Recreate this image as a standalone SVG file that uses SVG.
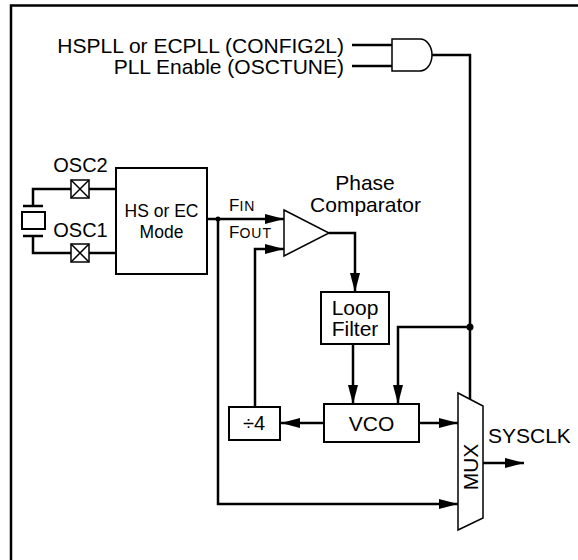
<svg xmlns="http://www.w3.org/2000/svg" width="578" height="560" viewBox="0 0 578 560">
<defs>
<style>
text{font-family:"Liberation Sans",Arial,sans-serif;fill:#000}
.lbl{font-size:21px}
.osc{font-size:20px}
.box{fill:#fff;stroke:#000;stroke-width:2}
.thin{fill:#fff;stroke:#000;stroke-width:1.5}
.wire{fill:none;stroke:#000;stroke-width:2.5}
.arr{fill:none;stroke:#000;stroke-width:2.5;marker-end:url(#ah)}
.mid{text-anchor:middle}
</style>
<marker id="ah" markerUnits="userSpaceOnUse" markerWidth="20" markerHeight="12" refX="19" refY="5" orient="auto">
<path d="M0,0 L19,5 L0,10 Z" fill="#000"/>
</marker>
</defs>
<rect id="frame" x="11" y="5.5" width="580" height="600" fill="none" stroke="#000" stroke-width="2.5"/>

<g id="connectors">
<path class="wire" d="M352,45 H392"/>
<path class="wire" d="M352,66 H392"/>
<path class="wire" d="M432,55 H470 V399"/>
<path class="arr" d="M470,327 H398 V404"/>
<circle cx="470" cy="327" r="3.5" fill="#000"/>
<path class="arr" d="M207,219 H284"/>
<circle cx="218" cy="219" r="2.5" fill="#000"/>
<path class="arr" d="M218,219 V504 H458"/>
<path class="arr" d="M255,407 V249 H284"/>
<path class="arr" d="M329,233 H355 V292"/>
<path class="arr" d="M353,344 V404"/>
<path class="arr" d="M419,423 H458"/>
<path class="arr" d="M324,423 H281"/>
<path class="arr" d="M483,463 H524"/>
<path class="wire" d="M116,189 H89 M71,189 H33 V206"/>
<path class="wire" d="M116,253 H89 M71,253 H33 V236"/>
</g>

<g id="labels-top">
<text class="lbl" x="344" y="52.5" text-anchor="end">HSPLL or ECPLL (CONFIG2L)</text>
<text class="lbl" x="344" y="73.5" text-anchor="end">PLL Enable (OSCTUNE)</text>
</g>

<g id="and-gate">
<path class="thin" d="M392,39 H420 A12,16 0 0 1 420,71 H392 Z"/>
</g>

<g id="crystal">
<path class="wire" d="M23,206 H43 M23,236 H43"/>
<rect x="22" y="212" width="23" height="17" fill="#fff" stroke="#000" stroke-width="2"/>
</g>

<g id="osc2">
<rect class="thin" x="71" y="180" width="18" height="18"/>
<path d="M71,180 L89,198 M89,180 L71,198" stroke="#000" stroke-width="1.5"/>
<text class="osc mid" x="80.5" y="171.5">OSC2</text>
</g>

<g id="osc1">
<rect class="thin" x="71" y="244" width="18" height="18"/>
<path d="M71,244 L89,262 M89,244 L71,262" stroke="#000" stroke-width="1.5"/>
<text class="osc mid" x="80.5" y="236.5">OSC1</text>
</g>

<g id="hs-ec-mode">
<rect class="box" x="116" y="168" width="91" height="106"/>
<text class="mid" x="161.5" y="217" font-size="17.5">HS or EC</text>
<text class="mid" x="161.5" y="238" font-size="17.5">Mode</text>
</g>

<g id="fin-fout">
<text x="229" y="211" font-size="17">F<tspan font-size="14" letter-spacing="1">IN</tspan></text>
<text x="229" y="238" font-size="17">F<tspan font-size="14" letter-spacing="1">OUT</tspan></text>
</g>

<g id="phase-comparator">
<path class="thin" d="M284,210 L329,233 L284,256 Z"/>
<text class="lbl mid" x="365" y="190">Phase</text>
<text class="lbl mid" x="365.5" y="212">Comparator</text>
</g>

<g id="loop-filter">
<rect class="box" x="321" y="292" width="68" height="52"/>
<text class="lbl mid" x="355" y="315">Loop</text>
<text class="lbl mid" x="355" y="336">Filter</text>
</g>

<g id="vco">
<rect class="box" x="324" y="404" width="95" height="38"/>
<text class="lbl mid" x="371.5" y="430.5">VCO</text>
</g>

<g id="div4">
<rect class="box" x="229" y="407" width="51" height="33"/>
<text class="mid" x="254" y="430" font-size="20">÷4</text>
</g>

<g id="mux">
<path class="thin" d="M458,393 L483,406 L483,518 L458,530 Z"/>
<text class="lbl mid" x="478" y="467" transform="rotate(-90 478 467)">MUX</text>
</g>

<g id="sysclk">
<text class="lbl" x="488" y="443">SYSCLK</text>
</g>
</svg>
